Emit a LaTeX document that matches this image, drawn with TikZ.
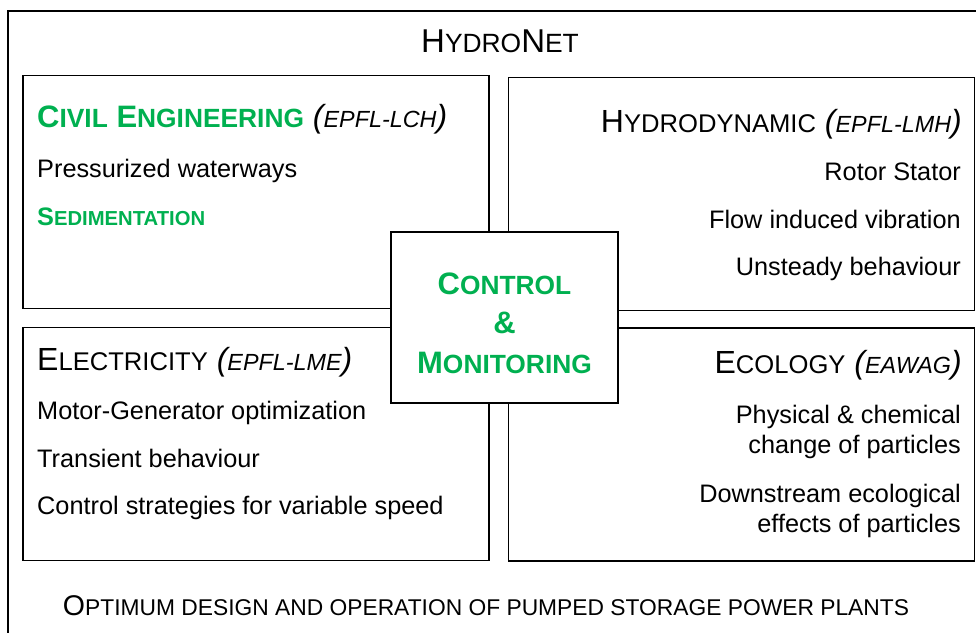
\documentclass[tikz,border=0pt]{standalone}
\usepackage{fontspec}
\setmainfont{Liberation Sans}
\usepackage{graphicx}
\usetikzlibrary{positioning}
\definecolor{leafgreen}{RGB}{0, 176, 80}
\newcommand\smcap[1]{\scalebox{0.8}{#1}}
\newcommand\smbold[1]{\scalebox{0.85}{#1}}
\newcommand\lab[1]{\textit{(\scalebox{0.73}{#1})}}

\begin{document}
\begin{tikzpicture}[x=1pt, y=-1pt,
            panel/.style={draw=black, line width=1.8pt, minimum width=466pt, minimum height=233pt, inner sep=0pt},
            hub/.style={draw=black, line width=1.8pt, fill=white, minimum width=227pt, minimum height=171pt, inner sep=0pt},
            hubtext/.style={inner sep=0pt, align=center, text=leafgreen, font=\fontsize{31}{39.5}\selectfont\bfseries},
            heading/.style={inner sep=0pt, font=\fontsize{32}{38}\selectfont},
            item/.style={inner sep=0pt, font=\fontsize{25.3}{30}\selectfont}
        ]
            \clip (0,0) rectangle (976,632);
            \node[draw=black, line width=1.3pt, minimum width=984pt, minimum height=638pt, inner sep=0pt] (frame) at (500,330) {};
            \node[inner sep=0pt, anchor=base, font=\fontsize{33}{38}\selectfont] (title) at (500,52) {H\smcap{YDRO}N\smcap{ET}};
            
            \node[panel] (civil) at (256,192) {};
            \node[panel] (hydro) at (741.5,194) {};
            \node[panel] (elec) at (256,444) {};
            \node[panel] (eco) at (741.5,444.5) {};
            \node[hub] (ctrl) at (504.5,317.5) {};
            \node[hubtext, anchor=base] (ctrltext) at (504.5,373) {C\smbold{ONTROL}\\\&\\M\smbold{ONITORING}};
            
            \node[heading, anchor=base west, text=leafgreen] (civilhd) at (37,127) {{\fontsize{31}{38}\selectfont\bfseries C\smbold{IVIL} E\smbold{NGINEERING}} \textcolor{black}{\lab{EPFL-LCH}}};
            \node[item, anchor=base west] (civil1) at (37,177) {Pressurized waterways};
            \node[item, anchor=base west, text=leafgreen, font=\fontsize{25.3}{30}\selectfont\bfseries] (civil2) at (37,225) {S\smcap{EDIMENTATION}};
            
            \node[heading, anchor=base east] (hydrohd) at (962,132) {H\smcap{YDRODYNAMIC} \lab{EPFL-LMH}};
            \node[item, anchor=base east] (hydro1) at (961,180) {Rotor Stator};
            \node[item, anchor=base east] (hydro2) at (961,228) {Flow induced vibration};
            \node[item, anchor=base east] (hydro3) at (961,275) {Unsteady behaviour};
            
            \node[heading, anchor=base west] (elechd) at (37,370) {E\smcap{LECTRICITY} \lab{EPFL-LME}};
            \node[item, anchor=base west] (elec1) at (37,419) {Motor-Generator optimization};
            \node[item, anchor=base west] (elec2) at (37,467) {Transient behaviour};
            \node[item, anchor=base west] (elec3) at (37,514) {Control strategies for variable speed};
            
            \node[heading, anchor=base east] (ecohd) at (962,373) {E\smcap{COLOGY} \lab{EAWAG}};
            \node[item, anchor=base east, align=right] (eco1) at (961,453) {Physical \& chemical\\change of particles};
            \node[item, anchor=base east, align=right] (eco2) at (961,532) {Downstream ecological\\effects of particles};
            
            \node[inner sep=0pt, anchor=base, font=\fontsize{28.5}{34}\selectfont] (goal) at (486,615) {O\smcap{PTIMUM DESIGN AND OPERATION OF PUMPED STORAGE POWER PLANTS}};
        \end{tikzpicture}
\end{document}
